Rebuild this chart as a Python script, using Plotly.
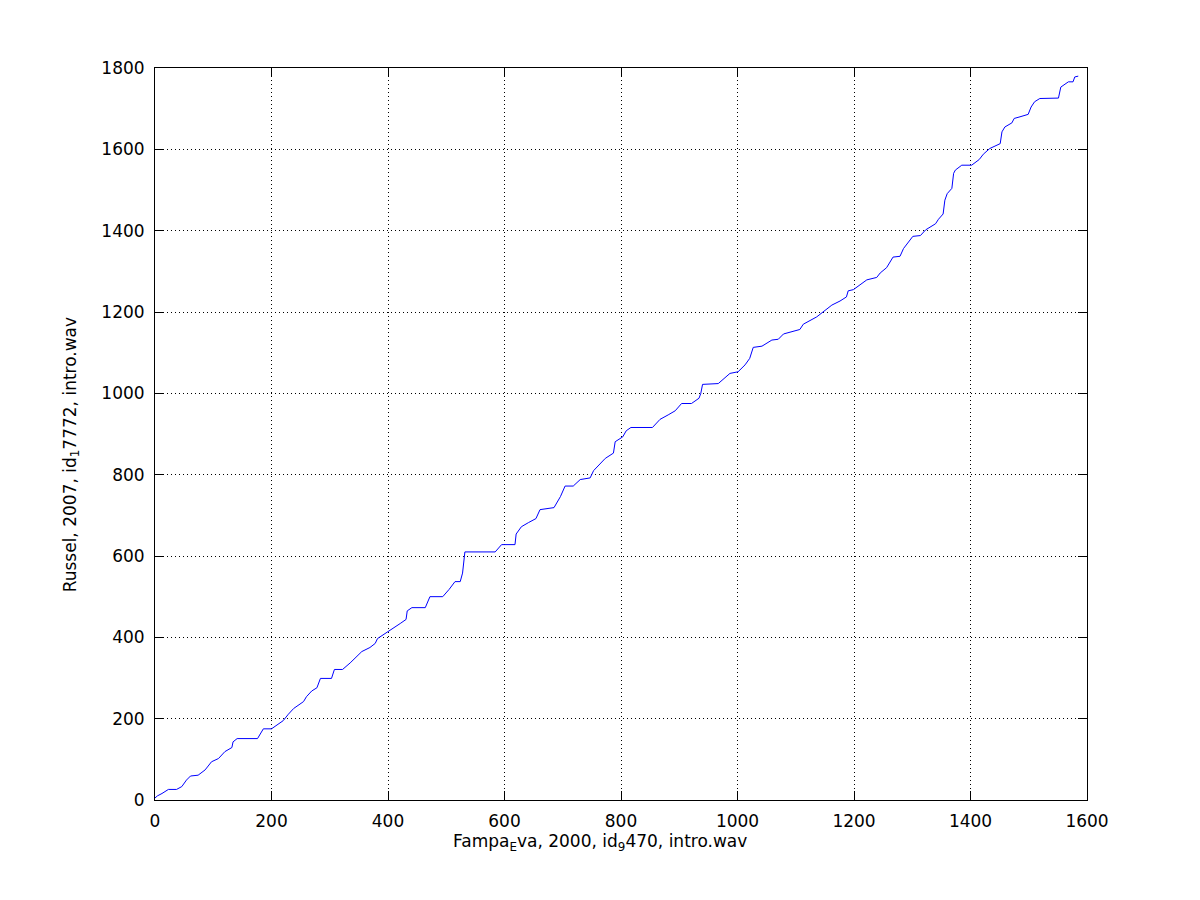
import plotly.graph_objects as go

# warping path vertices
path_x = [0, 4, 12, 23, 37, 46, 54, 61, 74, 86, 97, 109, 120, 132, 134, 141, 176, 181, 186,
          200, 220, 229, 238, 255, 260, 269, 278, 284, 303, 308, 322, 335, 355, 369, 378, 382,
          401, 421, 431, 433, 441, 464, 472, 494, 505, 515, 524, 528, 532, 584, 595, 618, 620,
          629, 641, 654, 661, 685, 696, 704, 718, 730, 747, 753, 773, 787, 790, 803, 809, 817,
          854, 867, 881, 893, 904, 921, 934, 937, 940, 967, 987, 1001, 1013, 1021, 1027, 1042,
          1059, 1070, 1079, 1093, 1107, 1113, 1136, 1162, 1176, 1187, 1190, 1199, 1222, 1239,
          1245, 1256, 1267, 1279, 1285, 1301, 1314, 1323, 1340, 1345, 1353, 1356, 1360, 1368,
          1371, 1374, 1385, 1402, 1415, 1422, 1433, 1442, 1451, 1454, 1459, 1471, 1475, 1485,
          1499, 1504, 1510, 1519, 1551, 1555, 1561, 1568, 1576, 1579, 1585]
path_y = [5, 10, 16, 26, 26, 33, 49, 59, 61, 74, 94, 102, 119, 129, 143, 151, 151, 162, 175,
          175, 195, 211, 225, 242, 254, 268, 276, 299, 299, 321, 321, 337, 365, 375, 385, 397,
          414, 434, 444, 465, 473, 473, 500, 500, 518, 537, 537, 558, 610, 610, 628, 628, 654,
          672, 682, 692, 714, 719, 746, 772, 772, 788, 792, 810, 840, 853, 881, 893, 908, 916,
          916, 936, 947, 957, 975, 975, 988, 1000, 1022, 1024, 1049, 1053, 1070, 1086, 1113,
          1116, 1131, 1133, 1146, 1151, 1157, 1170, 1188, 1217, 1227, 1237, 1252, 1255, 1279,
          1285, 1296, 1309, 1335, 1337, 1356, 1386, 1388, 1402, 1417, 1428, 1441, 1475, 1491,
          1504, 1541, 1549, 1561, 1561, 1575, 1588, 1602, 1608, 1614, 1643, 1655, 1665, 1676,
          1680, 1686, 1704, 1717, 1725, 1726, 1753, 1760, 1766, 1766, 1778, 1780]

x_ticks = [0, 200, 400, 600, 800, 1000, 1200, 1400, 1600]
y_ticks = [0, 200, 400, 600, 800, 1000, 1200, 1400, 1600, 1800]

x_label = "Fampa<sub>E</sub>va, 2000, id<sub>9</sub>470, intro.wav"
y_label = "Russel, 2007, id<sub>1</sub>7772, intro.wav"

FONT = dict(family="DejaVu Sans", size=17, color="black")

fig = go.Figure()
fig.add_trace(go.Scatter(x=path_x, y=path_y, mode="lines",
                         line=dict(color="#0000ff", width=1), showlegend=False))

axis_style = dict(
    showline=True, linecolor="black", linewidth=1, mirror="ticks",
    ticks="inside", ticklen=9, tickcolor="black", tickwidth=1,
    showgrid=True, gridcolor="black", gridwidth=1, griddash="1px,3px",
    zeroline=False, tickfont=FONT, ticklabelstandoff=6,
)

fig.update_xaxes(range=[0, 1600], tickvals=x_ticks, **axis_style)
fig.update_yaxes(range=[0, 1800], tickvals=y_ticks, **axis_style)

# axis titles placed like the MATLAB original (slightly off-centre)
fig.add_annotation(text=x_label, xref="paper", yref="paper", x=0.4775, y=-0.039,
                   xanchor="center", yanchor="top", showarrow=False, font=FONT)
fig.add_annotation(text=y_label, xref="paper", yref="paper", x=-0.09, y=0.471,
                   xanchor="center", yanchor="middle", textangle=-90,
                   showarrow=False, font=FONT)

fig.update_layout(
    width=1200, height=900,
    paper_bgcolor="white", plot_bgcolor="white",
    margin=dict(l=147, r=121, t=60, b=108),
)

fig.write_html("out.html")
